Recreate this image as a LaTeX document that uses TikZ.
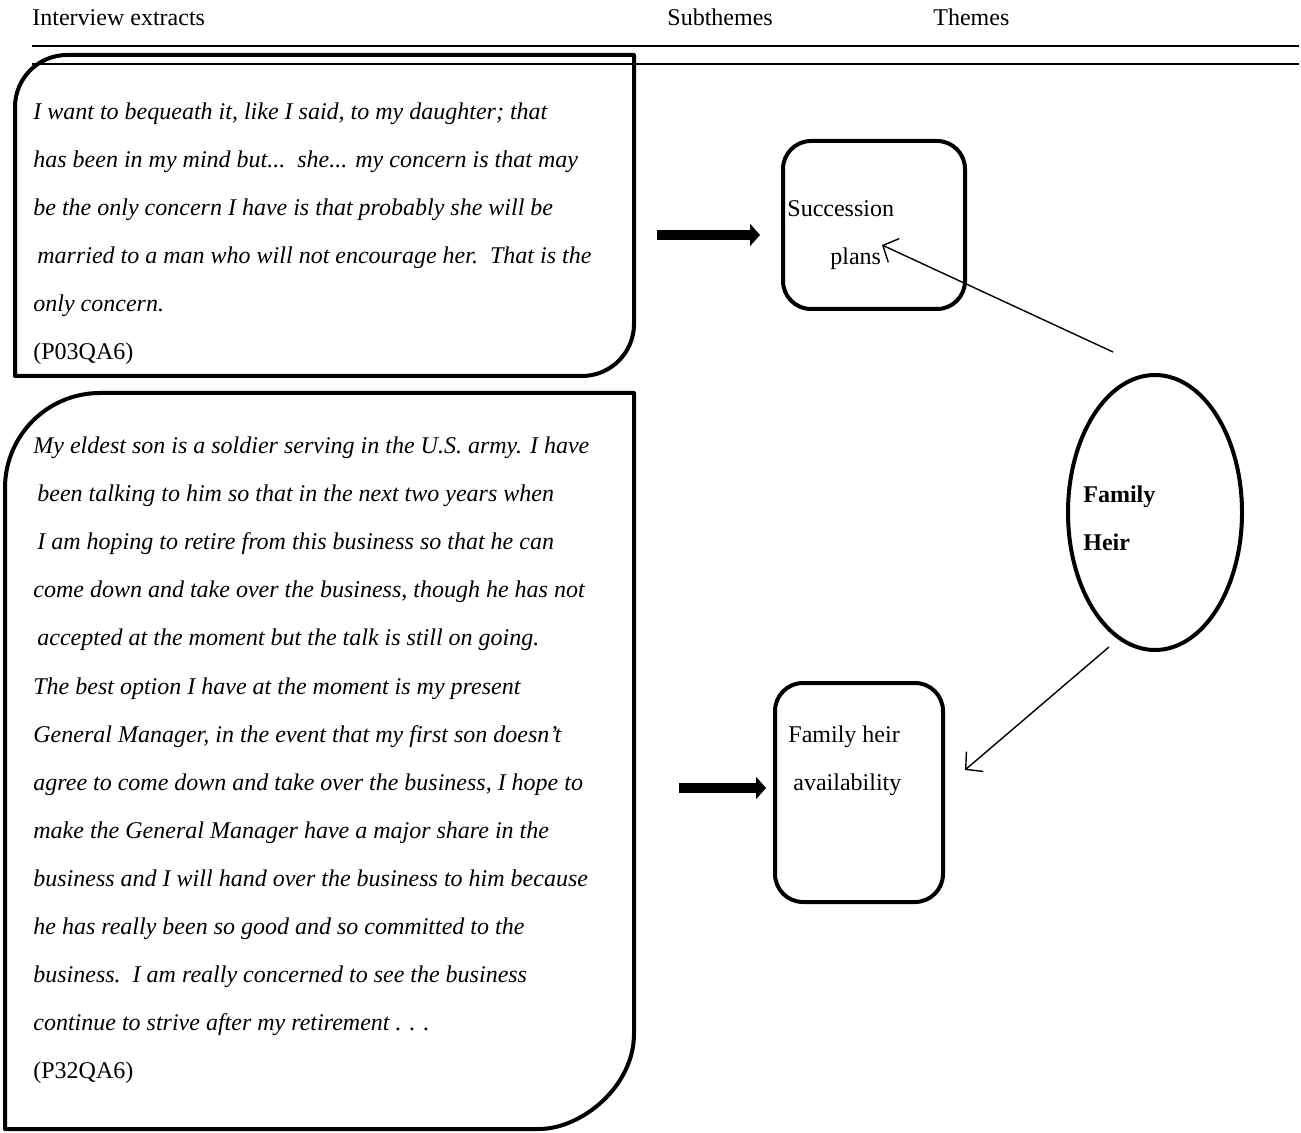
\documentclass[tikz,border=0pt]{standalone}
\usepackage{fontspec}
\setmainfont{Liberation Serif}
\usetikzlibrary{arrows.meta,shapes.geometric}
\tikzset{fat/.style={line width=5pt, -{Triangle[length=5pt,width=11pt]}},
  thin/.style={line width=0.7pt, -{Straight Barb[length=6pt,width=13pt]}},
  frame/.style={line width=2pt, line join=round},
  sub/.style={draw, line width=2pt, rounded corners=14pt, inner sep=0pt},
  txt/.style={anchor=base west, inner sep=0pt},
  quote/.style={txt, font=\fontsize{12}{14}\selectfont\itshape}}

\begin{document}
\begin{tikzpicture}[x=0.5pt, y=-0.5pt, font=\fontsize{12}{14}\selectfont]
  \useasboundingbox (0,0) rectangle (1301,1133);
  % header row and its two rules
  \node[txt] (h1) at (32,26) {Interview extracts};
  \node[txt] (h2) at (667,26) {Subthemes};
  \node[txt] (h3) at (933,26) {Themes};
  \draw[line width=0.7pt] (32,46) -- (1299,46);
  \draw[line width=0.9pt] (32,64) -- (1299,64);
  % extract frames: only top-left and bottom-right corners are round
  \draw[frame] (15,376) -- (15,107) .. controls (15,78.3) and (38.3,55) .. (67,55)
    -- (634,55) -- (634,324) .. controls (634,352.7) and (610.7,376) .. (582,376) -- cycle;
  \draw[frame] (5,1129) -- (5,488) .. controls (5,435.5) and (47.5,393) .. (100,393)
    -- (634,393) -- (634,1034) .. controls (634,1086.5) and (581.5,1129) .. (539,1129) -- cycle;
  \foreach \dx/\t [count=\i from 0] in {0/{I want to bequeath it, like I said, to my daughter; that},
      0/{has been in my mind but...\ \ she... my concern is that may},
      0/{be the only concern I have is that probably she will be},
      4/{married to a man who will not encourage her.\ \ That is the},
      0/{only concern.}}
    \node[quote] (qa\i) at (33+\dx,120+48*\i) {\t};
  \node[txt] (ida) at (33,360) {(P03QA6)};
  \foreach \dx/\t [count=\i from 0] in {0/{My eldest son is a soldier serving in the U.S. army. I have},
      4/{been talking to him so that in the next two years when},
      4/{I am hoping to retire from this business so that he can},
      0/{come down and take over the business, though he has not},
      4/{accepted at the moment but the talk is still on going.},
      0/{The best option I have at the moment is my present},
      0/{General Manager, in the event that my first son doesn’t},
      0/{agree to come down and take over the business, I hope to},
      0/{make the General Manager have a major share in the},
      0/{business and I will hand over the business to him because},
      0/{he has really been so good and so committed to the},
      0/{business.\ \ I am really concerned to see the business},
      0/{continue to strive after my retirement . . .}}
    \node[quote] (qb\i) at (33+\dx,454+48*\i) {\t};
  \node[txt] (idb) at (33,1078) {(P32QA6)};
  % subthemes
  \node[sub, minimum width=91pt, minimum height=84pt] (succ) at (874,225) {};
  \node[txt] (succ1) at (787,217) {Succession};
  \node[txt] (succ2) at (830,265) {plans};
  \node[sub, minimum width=84pt, minimum height=109.5pt] (avail) at (859,792.5) {};
  \node[txt] (avail1) at (788,742) {Family heir};
  \node[txt] (avail2) at (793,790) {availability};
  % theme
  \node[draw, ellipse, line width=2pt, minimum width=87pt, minimum height=137.5pt] (heir) at (1155,512.5) {};
  \node[txt, font=\fontsize{12}{14}\selectfont\bfseries] (heir1) at (1083,503) {Family};
  \node[txt, font=\fontsize{12}{14}\selectfont\bfseries] (heir2) at (1083,551) {Heir};
  % connectors
  \coordinate (fa0) at (657,235); \coordinate (fa1) at (760,235);
  \coordinate (fb0) at (679,788); \coordinate (fb1) at (766,788);
  \draw[fat] (fa0) -- (fa1);
  \draw[fat] (fb0) -- (fb1);
  \coordinate (ta0) at (1113,352); \coordinate (ta1) at (882,245);
  \coordinate (tb0) at (1109,647); \coordinate (tb1) at (965,770);
  \draw[thin] (ta0) -- (ta1);
  \draw[thin] (tb0) -- (tb1);
\end{tikzpicture}
\end{document}
